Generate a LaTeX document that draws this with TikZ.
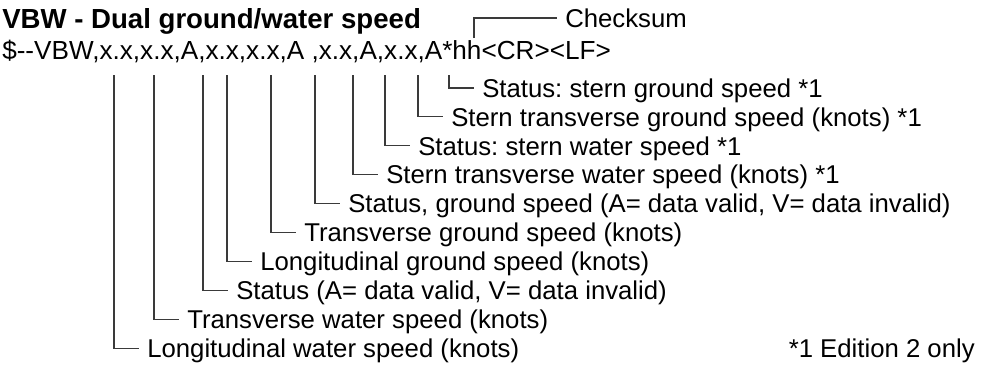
\documentclass[tikz,border=0pt]{standalone}
\usepackage{fontspec}
\setmainfont{Liberation Sans}
\usetikzlibrary{positioning,calc}
\definecolor{ink}{HTML}{000000}
\definecolor{leader}{HTML}{3A3A3A}
\tikzset{
  headtext/.style={anchor=base west,inner sep=0pt,text=ink,
                   font=\fontsize{20.7}{24}\selectfont\bfseries},
  sentence/.style={anchor=base west,inner sep=0pt,text=ink,
                   font=\fontsize{19.6}{23}\selectfont},
  notetext/.style={anchor=base east,inner sep=0pt,text=ink,
                   font=\fontsize{19.3}{22}\selectfont},
  fieldlbl/.style={anchor=west,inner xsep=6pt,inner ysep=0pt,
                   text height=13.8pt,text depth=0pt,text=ink,
                   font=\fontsize{19.3}{22}\selectfont},
  leaderline/.style={draw=leader,line width=0.8pt}
}

\begin{document}
\frenchspacing
\begin{tikzpicture}[x=0.75pt,y=-0.75pt]
    \path[use as bounding box] (0,0) rectangle (984,364);

    \node[headtext] (head) at (2,28) {VBW - Dual ground/water speed};
    \node[sentence] (sent) at (2,59)
      {\$-{}-VBW,x.x,x.x,A,x.x,x.x,A ,x.x,A,x.x,A*hh<CR><LF>};

    \coordinate (hh) at (474,38);
    \node[fieldlbl] (cksum) at (557,18) {Checksum};
    \draw[leaderline] (hh) |- (cksum);

    \coordinate (f1) at (449,75);
    \coordinate (f2) at (418,75);
    \coordinate (f3) at (385,75);
    \coordinate (f4) at (353,75);
    \coordinate (f5) at (315,75);
    \coordinate (f6) at (271,75);
    \coordinate (f7) at (227,75);
    \coordinate (f8) at (203,75);
    \coordinate (f9) at (154,75);
    \coordinate (f10) at (114,75);

    \node[fieldlbl] (lab1) at (474,88.0) {Status: stern ground speed *1};
    \node[fieldlbl] (lab2) at (443,116.9) {Stern transverse ground speed (knots) *1};
    \node[fieldlbl] (lab3) at (410,145.8) {Status: stern water speed *1};
    \node[fieldlbl] (lab4) at (378,174.7) {Stern transverse water speed (knots) *1};
    \node[fieldlbl] (lab5) at (340,203.6)
      {Status, ground speed (A= data valid, V= data invalid)};
    \node[fieldlbl] (lab6) at (296,232.5) {Transverse ground speed (knots)};
    \node[fieldlbl] (lab7) at (252,261.4) {Longitudinal ground speed (knots)};
    \node[fieldlbl] (lab8) at (228,290.3) {Status (A= data valid, V= data invalid)};
    \node[fieldlbl] (lab9) at (179,319.2) {Transverse water speed (knots)};
    \node[fieldlbl] (lab10) at (139,348.1) {Longitudinal water speed (knots)};

    \draw[leaderline] (f1) |- (lab1);
    \draw[leaderline] (f2) |- (lab2);
    \draw[leaderline] (f3) |- (lab3);
    \draw[leaderline] (f4) |- (lab4);
    \draw[leaderline] (f5) |- (lab5);
    \draw[leaderline] (f6) |- (lab6);
    \draw[leaderline] (f7) |- (lab7);
    \draw[leaderline] (f8) |- (lab8);
    \draw[leaderline] (f9) |- (lab9);
    \draw[leaderline] (f10) |- (lab10);

    \node[notetext] (note) at (975,357) {*1 Edition 2 only};
  \end{tikzpicture}
\end{document}
